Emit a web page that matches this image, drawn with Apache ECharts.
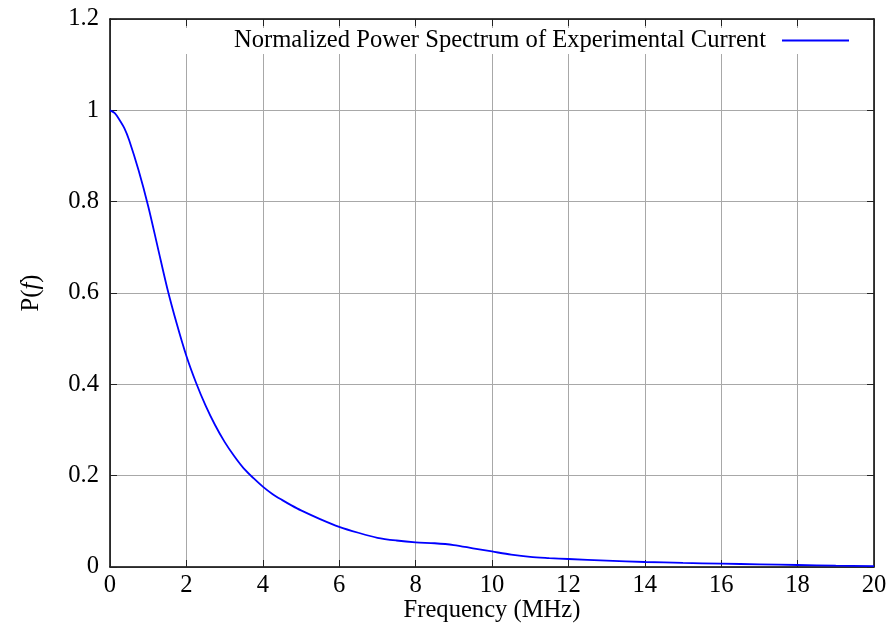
<!DOCTYPE html>
<html>
<head>
<meta charset="utf-8">
<script src="https://cdn.jsdelivr.net/npm/echarts@6/dist/echarts.min.js"></script>
<style>html,body{margin:0;padding:0;background:#fff;}#c{width:892px;height:623px;}</style>
</head>
<body>
<div id="c"></div>
<script>
const freq = [0,0.125,0.25,0.375,0.5,0.75,1,1.25,1.5,1.75,2,2.25,2.5,2.75,3,3.25,3.5,3.75,4,4.25,4.5,4.75,5,5.5,6,6.5,7,7.5,8,8.5,9,9.5,10,10.5,11,11.5,12,13,14,15,16,17,18,19,20];
const power = [1.0,0.994,0.979,0.961,0.935,0.868,0.79,0.70,0.61,0.532,0.462,0.404,0.354,0.311,0.274,0.243,0.216,0.195,0.176,0.160,0.147,0.135,0.124,0.105,0.088,0.075,0.064,0.058,0.054,0.052,0.048,0.041,0.034,0.027,0.022,0.0195,0.0175,0.014,0.011,0.009,0.0073,0.0058,0.0044,0.003,0.002];
const xTicks = [0,2,4,6,8,10,12,14,16,18,20];
const yTicks = [0,0.2,0.4,0.6,0.8,1,1.2];
const seriesName = 'Normalized Power Spectrum of Experimental Current';

const FONT = '"Liberation Serif", "Times New Roman", serif';
const chart = echarts.init(document.getElementById('c'), null, {renderer: 'canvas'});
const axisLine = {show: true, onZero: false, lineStyle: {color: '#000', width: 1.5}};
const tick = {show: true, inside: true, length: 7, lineStyle: {color: '#222', width: 1}};
const grid = {show: true, lineStyle: {color: '#a8a8a8', width: 1}};
const lbl = {fontFamily: FONT, fontSize: 24.6, color: '#000'};
const xBase = {type: 'value', min: xTicks[0], max: xTicks[xTicks.length-1], interval: xTicks[1]-xTicks[0]};
const yBase = {type: 'value', min: yTicks[0], max: yTicks[yTicks.length-1], interval: 0.2};

chart.setOption({
  animation: false,
  backgroundColor: '#fff',
  grid: {left: 110, right: 18, top: 19, bottom: 56, containLabel: false, outerBoundsMode: 'none'},
  legend: {
    right: 20, top: 28, align: 'right',
    itemWidth: 67, itemHeight: 2, itemGap: 0,
    padding: [0, 23, 1, 80],
    backgroundColor: '#fff',
    textStyle: Object.assign({padding: [0, 11, 0, 0]}, lbl),
    data: [{name: seriesName, icon: 'rect'}]
  },
  xAxis: [
    Object.assign({}, xBase, {position: 'bottom', axisLine, axisTick: tick, splitLine: grid,
      axisLabel: Object.assign({margin: 6}, lbl),
      name: 'Frequency (MHz)', nameLocation: 'middle', nameGap: 31, nameMoveOverlap: false, nameTextStyle: lbl}),
    Object.assign({}, xBase, {position: 'top', axisLine, axisTick: tick, splitLine: {show: false}, axisLabel: {show: false}})
  ],
  yAxis: [
    Object.assign({}, yBase, {position: 'left', axisLine, axisTick: tick, splitLine: grid,
      axisLabel: Object.assign({margin: 11}, lbl),
      name: 'P({i|f})', nameLocation: 'middle', nameGap: 66, nameMoveOverlap: false,
      nameTextStyle: Object.assign({rich: {i: Object.assign({fontStyle: 'italic'}, lbl)}}, lbl)}),
    Object.assign({}, yBase, {position: 'right', axisLine, axisTick: tick, splitLine: {show: false}, axisLabel: {show: false}})
  ],
  series: [{
    name: seriesName,
    type: 'line',
    xAxisIndex: 0, yAxisIndex: 0,
    data: freq.map((f, i) => [f, power[i]]),
    symbol: 'none',
    smooth: 0.3,
    lineStyle: {color: '#0000ff', width: 1.8},
    itemStyle: {color: '#0000ff'},
    z: 5
  }]
});
</script>
</body>
</html>
